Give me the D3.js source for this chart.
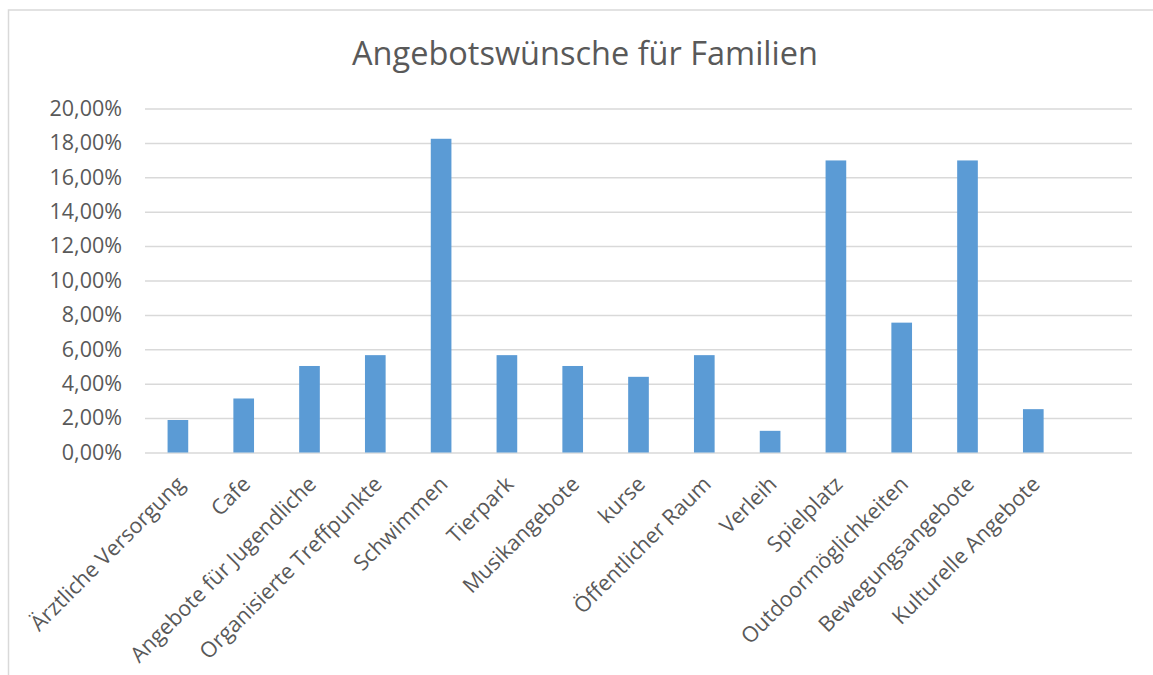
<!DOCTYPE html>
<html>
<head>
<meta charset="utf-8">
<script src="https://cdn.jsdelivr.net/npm/d3@7"></script>
<style>
  body { margin: 0; background: #fff; }
  text { font-family: "Open Sans", sans-serif; fill: #595959; }
</style>
</head>
<body>
<div id="chart"></div>
<script>
// categories and values (share of answers, in %)
var categories = ["Ärztliche Versorgung", "Cafe", "Angebote für Jugendliche", "Organisierte Treffpunkte",
  "Schwimmen", "Tierpark", "Musikangebote", "kurse", "Öffentlicher Raum", "Verleih",
  "Spielplatz", "Outdoormöglichkeiten", "Bewegungsangebote", "Kulturelle Angebote", ""];
var values = [1.89, 3.14, 5.03, 5.66, 18.24, 5.66, 5.03, 4.40, 5.66, 1.26, 16.98, 7.55, 16.98, 2.52, null];
var yTicks = [0, 2, 4, 6, 8, 10, 12, 14, 16, 18, 20];
var title = "Angebotswünsche für Familien";

var W = 1153, H = 675;
var margin = {top: 108.5, right: 21, bottom: 222.5, left: 145},
    width = W - margin.left - margin.right,
    height = H - margin.top - margin.bottom;

var svg = d3.select("#chart")
  .append("svg")
    .attr("width", W)
    .attr("height", H);

// chart area border (extends past the right and bottom edge)
svg.append("rect")
  .attr("x", 8.5).attr("y", 10)
  .attr("width", 1200).attr("height", 700)
  .attr("fill", "none")
  .attr("stroke", "#d9d9d9")
  .attr("stroke-width", 1.5);

svg.append("text")
  .attr("x", 585).attr("y", 65)
  .attr("text-anchor", "middle")
  .style("font-size", "32.5px")
  .text(title);

var g = svg.append("g")
  .attr("transform", "translate(" + margin.left + "," + margin.top + ")");

var x = d3.scaleBand()
  .domain(d3.range(categories.length))
  .range([0, width])
  .paddingInner(0.686)
  .paddingOuter(0.343);

var y = d3.scaleLinear()
  .domain([0, 20])
  .range([height, 0]);

// gridlines + y labels
var yAxis = g.append("g")
  .call(d3.axisLeft(y).tickValues(yTicks).tickSize(-width)
    .tickFormat(function(d) { return d3.format(".2f")(d).replace(".", ",") + "%"; }));
yAxis.select(".domain").remove();
yAxis.selectAll(".tick line").attr("stroke", "#d9d9d9").attr("stroke-width", 1.5);
yAxis.selectAll(".tick text")
  .attr("x", -23)
  .style("font-size", "21.5px")
  .style("font-family", "Open Sans, sans-serif")
  .attr("fill", "#595959");

// bars
g.append("g")
  .selectAll("rect")
  .data(values)
  .enter()
  .filter(function(d) { return d != null; })
  .append("rect")
    .attr("x", function(d, i) { return x(i); })
    .attr("y", function(d) { return y(d); })
    .attr("width", x.bandwidth())
    .attr("height", function(d) { return height - y(d); })
    .attr("fill", "#5b9bd5");

// category labels, rotated -45deg
g.append("g")
  .selectAll("text")
  .data(categories)
  .enter()
  .append("text")
    .attr("text-anchor", "end")
    .attr("transform", function(d, i) {
      var cx = x(i) + x.bandwidth() / 2 + 8;
      return "translate(" + cx + "," + (height + 33) + ") rotate(-45)";
    })
    .style("font-size", "21.5px")
    .text(function(d) { return d; });
</script>
</body>
</html>
